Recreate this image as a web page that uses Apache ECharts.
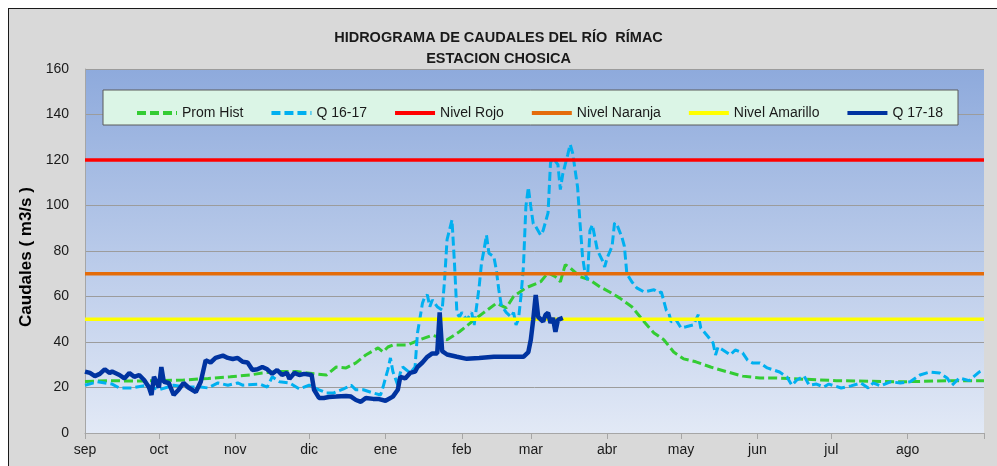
<!DOCTYPE html>
<html>
<head>
<meta charset="utf-8">
<script src="https://cdn.jsdelivr.net/npm/echarts@6/dist/echarts.min.js"></script>
<style>
  html, body { margin: 0; padding: 0; background: #fff; overflow: hidden; }
  #frame { position: absolute; left: 8px; top: 8px; width: 1000px; height: 470px; background: #d9d9d9; border: 1px solid #1a1a1a; }
  #chart { position: absolute; left: 0; top: 0; width: 997px; height: 466px; }
</style>
</head>
<body>
<div id="frame"></div>
<div id="chart"></div>
<script>
// hydrological year, day 0 = 1 sep
const monthNames = ['sep', 'oct', 'nov', 'dic', 'ene', 'feb', 'mar', 'abr', 'may', 'jun', 'jul', 'ago']
const monthStarts = [0, 30, 61, 91, 122, 153, 181, 212, 242, 273, 303, 334]
const yearEnd = 365

// Prom Hist (historical mean)
const promDays = [0, 10, 20, 30, 40, 50, 59, 67, 72, 79, 86, 93, 98, 102, 106, 110, 114, 119, 121, 123,
  125, 131, 136, 141, 147, 152, 158, 162, 167, 171, 174, 179, 185, 188, 191, 193, 195, 197, 201, 205,
  209, 213, 217, 222, 227, 231, 235, 239, 243, 248, 254, 261, 267, 274, 281, 305, 332, 351, 365]
const promHist = [22.6, 23, 22.8, 23, 23.3, 24, 24.7, 25.5, 26.4, 27, 27, 26, 25.5, 29, 28.6, 30.8, 34.3, 37.4, 35.6, 37.8,
  38.7, 38.7, 41, 43, 41, 44.5, 49.7, 53, 57, 55, 60, 63.8, 66.5, 70.4, 68.7, 66.5, 74, 72.6, 68.7, 67.3,
  64.3, 62, 59.4, 55.5, 48.9, 44, 41, 35.6, 32.6, 31.3, 29, 26.8, 25, 24.2, 24.2, 23, 22.5, 23, 23]

// Q 16-17
const q1617Days = [0, 5, 11, 14, 19, 25, 30, 36, 41, 47, 50, 54, 58, 62, 64, 71, 74, 76, 79, 83,
  87, 91, 95, 98, 101, 105, 108, 110, 113, 117, 120, 121, 123, 124, 125, 127, 128, 129, 132, 134,
  135, 137, 138, 139, 140, 141, 143, 145, 146, 147, 149, 150, 151, 152, 153, 155, 157, 158, 160, 161,
  162, 163, 164, 166, 167, 168, 169, 171, 173, 174, 175, 176, 177, 178, 179, 180, 181, 182, 183, 185,
  186, 188, 189, 190, 192, 193, 194, 196, 197, 198, 200, 201, 202, 203, 204, 205, 206, 207, 208, 210,
  211, 212, 214, 215, 216, 218, 219, 220, 222, 224, 227, 231, 233, 234, 236, 237, 238, 240, 242, 244,
  247, 249, 250, 253, 255, 256, 257, 259, 262, 264, 267, 269, 271, 274, 277, 282, 285, 287, 289, 292,
  294, 297, 300, 302, 307, 311, 315, 318, 320, 323, 327, 331, 335, 339, 343, 347, 350, 352, 355, 359,
  363, 365]
const q1617 = [21, 22.5, 21.5, 19.8, 19.8, 21, 19, 21, 20.2, 20.2, 19.8, 22, 21, 22, 21, 21.5, 20.2, 24.7, 22.5, 22,
  19.4, 21, 19, 17.6, 17.6, 19.4, 21, 19, 19, 17.6, 16.7, 20.2, 28, 33, 27, 21, 26.4, 29, 26.4, 29,
  44, 57, 60, 60.7, 55.5, 58.5, 55.5, 54, 67.3, 85, 93.7, 74.8, 52.8, 51, 53, 49.7, 53, 47.5, 64, 74.8,
  80.5, 87, 79, 77.5, 71.7, 63, 56.3, 53, 51, 53, 47.5, 50, 60, 73, 99.5, 108, 99.5, 92, 90.7, 87,
  89, 96.8, 118.8, 121, 118, 107, 114, 122.4, 126.8, 123, 108, 92, 77.5, 70.4, 67.3, 89, 91.5, 86, 80.5, 76,
  73, 77, 82, 92.4, 91.5, 86, 82, 70, 66.5, 63.8, 62, 63, 61.6, 62, 54, 52.8, 48.9, 49.7, 46.2, 46.7,
  47.5, 52, 46.2, 42.3, 39.6, 34.3, 37.8, 36.5, 34.3, 36.5, 35.2, 32, 30.8, 30.8, 28.6, 26.8, 24.6, 21, 23.3, 25,
  21, 21.5, 20.2, 21.5, 19.8, 20.7, 22, 19.8, 22, 20.7, 22.5, 22, 22.5, 25.5, 26.8, 26.4, 24.2, 21, 24.2, 23,
  26.8, 27.7]

// Q 17-18 (current year, up to mid march)
const q1718Days = [0, 2, 4, 6, 8, 10, 11, 14, 16, 18, 20, 22, 24, 26, 27, 28, 30, 31, 32, 34,
  36, 38, 40, 42, 45, 47, 49, 51, 53, 56, 58, 60, 62, 64, 66, 68, 70, 72, 74, 76,
  78, 80, 82, 83, 85, 87, 89, 92, 93, 95, 97, 99, 102, 106, 108, 110, 112, 114, 117, 119,
  122, 125, 127, 128, 130, 132, 134, 135, 137, 139, 141, 143, 144, 145, 147, 151, 155, 160, 166, 171,
  178, 180, 181, 182, 183, 184, 186, 187, 188, 189, 190, 191, 192, 194]
const q1718 = [27, 26.4, 25, 26, 28, 26.4, 27, 25.5, 24, 26.4, 24.7, 25.5, 23.3, 20, 16.7, 24.7, 20, 29, 22.5, 22,
  16.7, 19, 22, 20, 18, 22.5, 32, 31, 33, 34, 33, 32.5, 33, 31.3, 31, 27.7, 28, 29, 28, 26,
  27.7, 25.5, 26.4, 23.8, 26.4, 25.5, 26, 25.5, 19, 15.4, 15.4, 15.8, 16, 16.3, 16, 14.5, 13.7, 15.4, 15, 15,
  14.2, 16, 19, 24.7, 24, 26.4, 27, 29, 31, 33.5, 35, 35, 53, 36, 34.5, 33.5, 32.6, 33, 33.5, 33.5,
  33.5, 35.6, 41, 50, 60.7, 51, 49, 52, 52.8, 48.4, 50.6, 44.5, 49.7, 50.6]

// alert levels (m3/s)
const levelDays = [0, yearEnd]
const nivelRojo = 120
const nivelNaranja = 70
const nivelAmarillo = 50

const pairs = (days, vals) => days.map((d, i) => [d, vals[i]])
const level = (v) => levelDays.map((d) => [d, v])

const font = 'Liberation Sans'
const chart = echarts.init(document.getElementById('chart'))

chart.setOption({
  animation: false,
  backgroundColor: 'transparent',
  title: {
    text: 'HIDROGRAMA DE CAUDALES DEL RÍO  RÍMAC\nESTACION CHOSICA',
    left: 'center',
    top: 22,
    textStyle: { fontFamily: font, fontSize: 14.5, fontWeight: 'bold', color: '#1a1a1a', lineHeight: 21 },
  },
  graphic: [
    {
      type: 'rect',
      z: 3,
      shape: { x: 103, y: 90, width: 855, height: 35 },
      style: { fill: '#dbf5e6', stroke: '#5a5a5a', lineWidth: 1 },
    },
  ],
  legend: {
    z: 4,
    left: 130,
    top: 101,
    itemWidth: 40,
    itemHeight: 14,
    itemGap: 26,
    itemStyle: { color: 'transparent', borderWidth: 0 },
    lineStyle: { width: 4 },
    textStyle: { fontFamily: font, fontSize: 14, color: '#1a1a1a' },
    data: ['Prom Hist', 'Q 16-17', 'Nivel Rojo', 'Nivel Naranja', 'Nivel Amarillo', 'Q 17-18'],
  },
  grid: {
    left: 85,
    right: 13,
    top: 69,
    bottom: 33,
    show: true,
    borderWidth: 0,
    backgroundColor: {
      type: 'linear', x: 0, y: 0, x2: 0, y2: 1,
      colorStops: [
        { offset: 0, color: '#8eaadc' },
        { offset: 1, color: '#e2e9f6' },
      ],
    },
  },
  xAxis: {
    type: 'value',
    min: 0,
    max: yearEnd,
    axisLine: { lineStyle: { color: '#a6a6a6', width: 1 } },
    axisTick: {
      customValues: monthStarts.concat([yearEnd]),
      length: 6,
      lineStyle: { color: '#a6a6a6' },
    },
    axisLabel: {
      customValues: monthStarts,
      formatter: (v) => monthNames[monthStarts.indexOf(v)] || '',
      fontFamily: font,
      fontSize: 14,
      color: '#1a1a1a',
      margin: 10,
    },
    splitLine: { show: false },
  },
  yAxis: {
    type: 'value',
    min: 0,
    max: 160,
    interval: 20,
    name: 'Caudales ( m3/s )',
    nameLocation: 'middle',
    nameGap: 40,
    nameTextStyle: { fontFamily: font, fontSize: 17, fontWeight: 'bold', color: '#000', padding: [0, 12, 0, 0] },
    axisLine: { show: true, lineStyle: { color: '#a6a6a6' } },
    axisTick: { show: false },
    axisLabel: { fontFamily: font, fontSize: 14, color: '#1a1a1a', margin: 16 },
    splitLine: { lineStyle: { color: '#9c9c9c', width: 1 } },
  },
  series: [
    {
      name: 'Prom Hist',
      type: 'line',
      symbol: 'none',
      data: pairs(promDays, promHist),
      lineStyle: { color: '#33cc33', width: 3, type: [9, 4] },
      itemStyle: { color: '#33cc33' },
    },
    {
      name: 'Q 16-17',
      type: 'line',
      symbol: 'none',
      data: pairs(q1617Days, q1617),
      lineStyle: { color: '#00b0f0', width: 3, type: [9, 4] },
      itemStyle: { color: '#00b0f0' },
    },
    {
      name: 'Nivel Rojo',
      type: 'line',
      symbol: 'none',
      data: level(nivelRojo),
      lineStyle: { color: '#ff0000', width: 3.5 },
      itemStyle: { color: '#ff0000' },
    },
    {
      name: 'Nivel Naranja',
      type: 'line',
      symbol: 'none',
      data: level(nivelNaranja),
      lineStyle: { color: '#e46c0a', width: 3.5 },
      itemStyle: { color: '#e46c0a' },
    },
    {
      name: 'Nivel Amarillo',
      type: 'line',
      symbol: 'none',
      data: level(nivelAmarillo),
      lineStyle: { color: '#ffff00', width: 3.5 },
      itemStyle: { color: '#ffff00' },
    },
    {
      name: 'Q 17-18',
      type: 'line',
      symbol: 'none',
      data: pairs(q1718Days, q1718),
      lineStyle: { color: '#0033a0', width: 4.5 },
      itemStyle: { color: '#0033a0' },
    },
  ],
})
</script>
</body>
</html>
